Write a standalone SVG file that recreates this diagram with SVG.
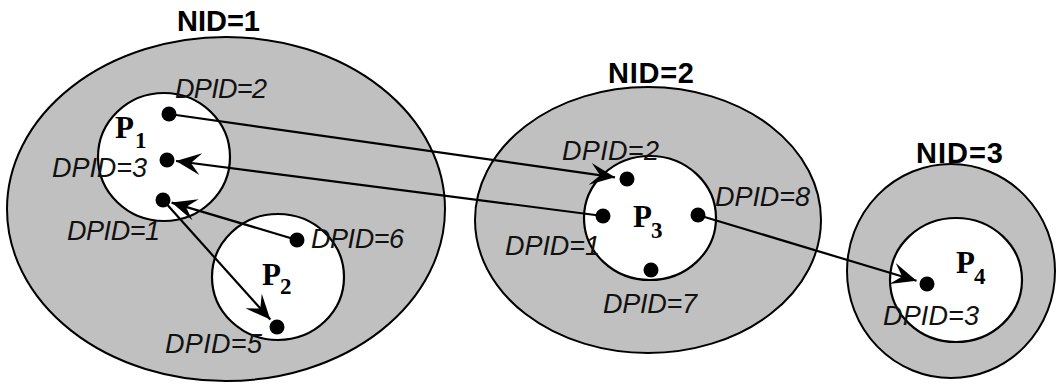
<svg xmlns="http://www.w3.org/2000/svg" width="1057" height="386" viewBox="0 0 1057 386">
  <style>
    .net { fill: #c0c0c0; stroke: #000; stroke-width: 2; }
    .proc { fill: #fff; stroke: #000; stroke-width: 2.2; }
    .nid { font-family: "Liberation Sans", Arial, sans-serif; font-weight: bold; font-size: 29px; fill: #000; }
    .dpid { font-family: "Liberation Sans", Arial, sans-serif; font-style: italic; font-size: 27px; fill: #111; }
    .pname { font-family: "Liberation Serif", "Times New Roman", serif; font-weight: bold; font-size: 31px; fill: #000; }
    .psub { font-family: "Liberation Serif", "Times New Roman", serif; font-weight: bold; font-size: 23px; fill: #000; }
    .dot { fill: #000; }
    .link { stroke: #000; stroke-width: 2.2; fill: none; marker-end: url(#barb); }
  </style>
  <defs>
    <marker id="barb" viewBox="-28 -13 30 26" refX="0" refY="0" markerWidth="30" markerHeight="26" markerUnits="userSpaceOnUse" orient="auto">
      <path d="M0,0 L-25,-11 L-15,0 L-25,11 Z" fill="#000"/>
    </marker>
  </defs>

  <!-- network 1 -->
  <g id="net1">
    <ellipse class="net" cx="226" cy="209" rx="219" ry="172"/>
    <text class="nid" x="177" y="31" textLength="83">NID=1</text>
  </g>
  <!-- network 2 -->
  <g id="net2">
    <ellipse class="net" cx="648" cy="220" rx="173" ry="133"/>
    <text class="nid" x="608" y="83" textLength="86">NID=2</text>
  </g>
  <!-- network 3 -->
  <g id="net3">
    <ellipse class="net" cx="951" cy="271" rx="104" ry="107"/>
    <text class="nid" x="916" y="163" textLength="87">NID=3</text>
  </g>

  <!-- process P1 -->
  <g id="p1">
    <ellipse class="proc" cx="164" cy="157" rx="66" ry="64"/>
    <text class="pname" x="115" y="138">P</text>
    <text class="psub" x="135" y="148">1</text>
    <text class="dpid" x="175" y="98" textLength="92">DPID=2</text>
    <text class="dpid" x="52" y="177" textLength="95">DPID=3</text>
    <text class="dpid" x="67" y="240" textLength="93">DPID=1</text>
  </g>
  <!-- process P2 -->
  <g id="p2">
    <ellipse class="proc" cx="278" cy="277" rx="66" ry="63"/>
    <text class="pname" x="262" y="285">P</text>
    <text class="psub" x="280" y="294">2</text>
    <text class="dpid" x="311" y="248" textLength="93">DPID=6</text>
    <text class="dpid" x="165" y="353" textLength="97">DPID=5</text>
  </g>
  <!-- process P3 -->
  <g id="p3">
    <ellipse class="proc" cx="650" cy="218" rx="66" ry="62"/>
    <text class="pname" x="633" y="227">P</text>
    <text class="psub" x="651" y="238">3</text>
    <text class="dpid" x="562" y="160" textLength="97">DPID=2</text>
    <text class="dpid" x="715" y="206" textLength="95">DPID=8</text>
    <text class="dpid" x="505" y="255" textLength="95">DPID=1</text>
    <text class="dpid" x="603" y="313" textLength="94">DPID=7</text>
  </g>
  <!-- process P4 -->
  <g id="p4">
    <ellipse class="proc" cx="956" cy="280" rx="66" ry="62"/>
    <text class="pname" x="956" y="273">P</text>
    <text class="psub" x="974" y="284">4</text>
    <text class="dpid" x="883" y="325" textLength="96">DPID=3</text>
  </g>

  <!-- links between ports -->
  <g id="links">
    <line class="link" x1="169" y1="114" x2="615" y2="177.3"/>
    <line class="link" x1="603" y1="216" x2="176" y2="161"/>
    <line class="link" x1="297" y1="240" x2="171.6" y2="202.6"/>
    <line class="link" x1="163" y1="200" x2="270.3" y2="319.6"/>
    <line class="link" x1="698" y1="215" x2="916.5" y2="280.8"/>
  </g>

  <!-- ports -->
  <g id="ports">
    <circle class="dot" cx="169" cy="114" r="7.5"/>
    <circle class="dot" cx="167" cy="160" r="7.5"/>
    <circle class="dot" cx="163" cy="200" r="7.5"/>
    <circle class="dot" cx="297" cy="240" r="7.5"/>
    <circle class="dot" cx="277" cy="327" r="7.5"/>
    <circle class="dot" cx="627" cy="179" r="7.5"/>
    <circle class="dot" cx="603" cy="216" r="7.5"/>
    <circle class="dot" cx="698" cy="215" r="7.5"/>
    <circle class="dot" cx="651" cy="270" r="7.5"/>
    <circle class="dot" cx="927" cy="284" r="7.5"/>
  </g>
</svg>
